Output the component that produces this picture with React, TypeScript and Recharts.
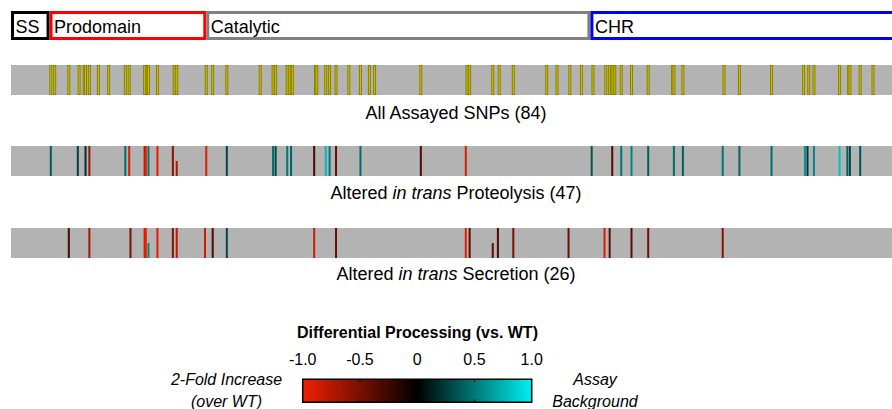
import {
  BarChart,
  Bar,
  LabelList,
  ScatterChart,
  Scatter,
  ComposedChart,
  ReferenceArea,
  XAxis,
  YAxis,
} from "recharts";

// PCSK9 residue numbering
const PROTEIN_LENGTH = 692;

const domainNames = ["SS", "Prodomain", "Catalytic", "CHR"];
const domainLengths = [30, 122, 299, 241];
const domainColors = ["#000000", "#ff0000", "#808080", "#0000ff"];

// residue positions of every assayed SNP
const assayedPos = [
  31, 34, 45, 53, 57, 58, 61, 68, 76, 89, 92, 104, 106, 107, 114, 127, 129, 152,
  157, 168, 194, 204, 206, 215, 217, 219, 237, 238, 245, 248, 253, 263, 272,
  279, 283, 319, 355, 357, 375, 380, 391, 417, 425, 435, 444, 453, 463, 466,
  468, 470, 475, 483, 496, 515, 516, 523, 555, 567, 592, 617, 621, 625, 645,
  652, 653, 661, 671,
];

// in trans proteolysis: position + differential processing (-1..1)
const proteolysisPos = [
  31, 52, 58, 61, 89, 92, 104, 105, 107, 114, 126, 129, 152, 168, 204, 206, 215,
  218, 236, 245, 248, 253, 272, 319, 354, 452, 468, 475, 483, 496, 516, 523,
  554, 567, 592, 618, 620, 625, 645, 651, 653, 661,
];
const proteolysisVal = [
  0.38, 0.28, 0.2, -0.65, 0.45, -0.9, -0.75, -1.0, 0.5, -0.95, -0.6, -0.72,
  -0.92, 0.3, 0.45, 0.3, 0.5, 0.42, -0.32, 0.78, 0.5, -0.42, 0.45, -0.32, -0.9,
  0.35, -0.36, 0.5, 0.56, 0.4, 0.45, 0.4, 0.5, 0.42, 0.46, 0.62, 0.22, 0.56,
  0.8, 0.42, 0.3, 0.36,
];
const proteolysisPartial = [129];

// in trans secretion
const secretionPos = [
  45, 61, 93, 104, 105, 107, 114, 126, 129, 151, 157, 168, 236, 253, 354, 357,
  375, 379, 391, 434, 462, 466, 483, 496, 554,
];
const secretionVal = [
  -0.3, -0.7, -0.5, -0.88, -1.0, 0.55, -0.95, -0.55, -0.8, -0.85, -0.32, 0.3,
  -0.85, -0.45, -0.95, -0.38, -0.4, -0.3, -0.5, -0.45, -0.9, -0.4, -0.38, -0.5,
  -0.55,
];
const secretionPartial = [107, 375];

const scaleTicks = [-1, -0.5, 0, 0.5, 1];

const FONT = '"Liberation Sans", Arial, sans-serif';
const TRACK_H = 30;
const PLOT_LEFT = 11;
const CHART_W = 900;
const SCALE_H = 23;

const NEG = [240, 32, 0];
const POS = [0, 240, 240];
function cmap(v: number) {
  const c = v < 0 ? NEG : POS;
  const t = Math.min(1, Math.abs(v));
  return `rgb(${c.map(k => Math.round(k * t)).join(",")})`;
}

type Row = { pos: number; h: number; v: number };

const toRows = (pos: number[], val: number[] | null, partial: number[]): Row[] =>
  pos.map((p, i) => ({ pos: p, h: partial.includes(p) ? 0.5 : 1, v: val ? val[i] : 0 }));

const domainRow = [
  Object.fromEntries([["name", "PCSK9"], ...domainNames.map((n, i) => [n, domainLengths[i]])]),
];

function DomainBar() {
  return (
    <div style={{ position: "absolute", left: 0, top: 11 }}>
      <BarChart
        width={CHART_W}
        height={29}
        layout="vertical"
        data={domainRow}
        barCategoryGap={0}
        margin={{ top: 0, right: 0, bottom: 0, left: PLOT_LEFT }}
      >
        <XAxis type="number" domain={[0, PROTEIN_LENGTH]} hide />
        <YAxis type="category" dataKey="name" hide />
        {domainNames.map((n, i) => (
          <Bar
            key={n}
            dataKey={n}
            stackId="d"
            isAnimationActive={false}
            shape={(p: any) => (
              <rect
                x={p.x + 1.5}
                y={p.y + 1.5}
                width={p.width - 3}
                height={p.height - 3}
                fill="#fff"
                stroke={domainColors[i]}
                strokeWidth={3}
              />
            )}
          >
            <LabelList
              dataKey={n}
              position="insideLeft"
              offset={4.5}
              formatter={() => n}
              fill="#000"
              fontSize={18}
              dy={1}
            />
          </Bar>
        ))}
      </BarChart>
    </div>
  );
}

function Track({ top, rows, yellow }: { top: number; rows: Row[]; yellow?: boolean }) {
  return (
    <div style={{ position: "absolute", left: 0, top, width: CHART_W, height: TRACK_H }}>
      <div
        style={{
          position: "absolute",
          left: PLOT_LEFT,
          top: 0,
          width: CHART_W - PLOT_LEFT,
          height: TRACK_H,
          background: "#b3b3b3",
        }}
      />
      <div style={{ position: "absolute", left: 0, top: 0 }}>
        <ScatterChart
          width={CHART_W}
          height={TRACK_H}
          margin={{ top: 0, right: 0, bottom: 0, left: PLOT_LEFT }}
        >
          <XAxis type="number" dataKey="pos" domain={[0, PROTEIN_LENGTH]} hide />
          <YAxis type="number" dataKey="h" domain={[0, 1]} hide />
          <Scatter
            data={rows}
            isAnimationActive={false}
            shape={(p: any) =>
              yellow ? (
                <rect
                  x={p.cx - 1}
                  y={p.cy + 0.5}
                  width={2}
                  height={TRACK_H - p.cy - 1}
                  fill="#ccc000"
                  stroke="#8b8200"
                  strokeWidth={1}
                />
              ) : (
                <rect
                  x={p.cx - 1}
                  y={p.cy}
                  width={2}
                  height={TRACK_H - p.cy}
                  fill={cmap(p.payload.v)}
                />
              )
            }
          />
        </ScatterChart>
      </div>
    </div>
  );
}

const tickRows = scaleTicks.filter(t => Math.abs(t) < 1).map(t => ({ x: t, y: 0.5 }));

function ColorScale() {
  return (
    <div style={{ position: "absolute", left: 0, top: 340 }}>
      <ComposedChart
        width={560}
        height={69}
        data={tickRows}
        margin={{ top: 0, right: 28.3, bottom: 6.7, left: 302.7 }}
      >
        <defs>
          <linearGradient id="cmap" x1="0" y1="0" x2="1" y2="0">
            {scaleTicks.map(t => (
              <stop key={t} offset={(t + 1) / 2} stopColor={cmap(t)} />
            ))}
          </linearGradient>
        </defs>
        <XAxis
          type="number"
          dataKey="x"
          orientation="top"
          domain={[-1, 1]}
          ticks={scaleTicks}
          interval={0}
          height={39.3}
          tickLine={false}
          axisLine={false}
          tickSize={0}
          tickMargin={14}
          tickFormatter={(v: number) => (v === 0 ? "0" : v.toFixed(1))}
          tick={{ fill: "#000", fontSize: 16 }}
        />
        <YAxis type="number" dataKey="y" domain={[0, 1]} hide />
        <ReferenceArea
          x1={-1}
          x2={1}
          y1={0}
          y2={1}
          fill="url(#cmap)"
          fillOpacity={1}
          stroke="#000"
          strokeWidth={1.5}
        />
        <Scatter
          dataKey="y"
          isAnimationActive={false}
          shape={(p: any) => (
            <g stroke="#000" strokeWidth={1}>
              <line x1={p.cx} x2={p.cx} y1={p.cy - SCALE_H / 2} y2={p.cy - SCALE_H / 2 + 3} />
              <line x1={p.cx} x2={p.cx} y1={p.cy + SCALE_H / 2} y2={p.cy + SCALE_H / 2 - 3} />
            </g>
          )}
        />
      </ComposedChart>
    </div>
  );
}

export default function App() {
  return (
    <div
      style={{
        position: "fixed",
        left: 0,
        top: 0,
        width: 892,
        height: 409,
        overflow: "hidden",
        background: "#fff",
        fontFamily: FONT,
      }}
    >
      <DomainBar />
      <Track top={65} rows={toRows(assayedPos, null, [])} yellow />
      <Track top={146} rows={toRows(proteolysisPos, proteolysisVal, proteolysisPartial)} />
      <Track top={228} rows={toRows(secretionPos, secretionVal, secretionPartial)} />
      <ColorScale />
      <svg
        width={892}
        height={409}
        style={{ position: "absolute", left: 0, top: 0, pointerEvents: "none" }}
        fontFamily={FONT}
      >
        <text x={456} y={118.5} textAnchor="middle" fontSize={18} fill="#000">
          All Assayed SNPs (84)
        </text>
        <text x={456} y={199} textAnchor="middle" fontSize={18} fill="#000">
          Altered <tspan fontStyle="italic">in trans</tspan> Proteolysis (47)
        </text>
        <text x={456} y={280} textAnchor="middle" fontSize={18} fill="#000">
          Altered <tspan fontStyle="italic">in trans</tspan> Secretion (26)
        </text>
        <text x={417.5} y={338} textAnchor="middle" fontSize={16} fontWeight="bold" fill="#000">
          Differential Processing (vs. WT)
        </text>
        <text x={226.5} y={385} textAnchor="middle" fontSize={16} fontStyle="italic" fill="#000">
          2-Fold Increase
        </text>
        <text x={226.5} y={407} textAnchor="middle" fontSize={16} fontStyle="italic" fill="#000">
          (over WT)
        </text>
        <text x={595} y={385} textAnchor="middle" fontSize={16} fontStyle="italic" fill="#000">
          Assay
        </text>
        <text x={595} y={407} textAnchor="middle" fontSize={16} fontStyle="italic" fill="#000">
          Background
        </text>
      </svg>
    </div>
  );
}
